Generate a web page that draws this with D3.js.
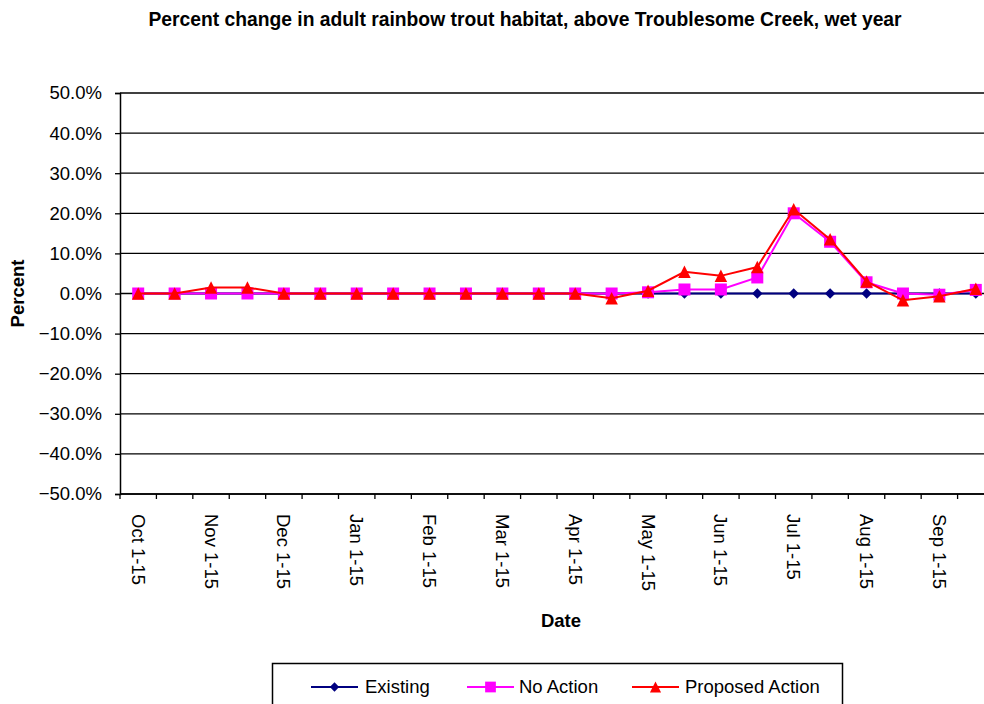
<!DOCTYPE html>
<html>
<head>
<meta charset="utf-8">
<script src="https://cdn.jsdelivr.net/npm/d3@7"></script>
<style>
  html, body { margin: 0; padding: 0; background: #fff; }
  svg { display: block; font-family: "Liberation Sans", Arial, sans-serif; }
</style>
</head>
<body>
<svg id="chart" width="984" height="704"></svg>
<script>
// Half-month periods of the water year
const periods = [
  "Oct 1-15", "Oct 16-31", "Nov 1-15", "Nov 16-30", "Dec 1-15", "Dec 16-31",
  "Jan 1-15", "Jan 16-31", "Feb 1-15", "Feb 16-28", "Mar 1-15", "Mar 16-31",
  "Apr 1-15", "Apr 16-30", "May 1-15", "May 16-31", "Jun 1-15", "Jun 16-30",
  "Jul 1-15", "Jul 16-31", "Aug 1-15", "Aug 16-31", "Sep 1-15", "Sep 16-30"
];

// Percent change in habitat, by scenario
const existing = [0, 0, 0, 0, 0, 0, 0, 0, 0, 0, 0, 0, 0, 0, 0, 0, 0, 0, 0, 0, 0, 0, 0, 0];
const noAction = [0, 0, 0, 0, 0, 0, 0, 0, 0, 0, 0, 0, 0, 0, 0.3, 1.0, 1.0, 4.0, 20.0, 12.9, 2.8, 0, -0.3, 0.9];
const proposedAction = [0, 0, 1.5, 1.5, 0, 0, 0, 0, 0, 0, 0, 0, 0, -1.2, 0.7, 5.4, 4.4, 6.6, 21.0, 13.5, 3.0, -1.7, -0.7, 1.2];

const yTicks = [-50, -40, -30, -20, -10, 0, 10, 20, 30, 40, 50];
const seriesNames = ["Existing", "No Action", "Proposed Action"];

const svg = d3.select("#chart");
const plotLeft = 120, plotRight = 994, plotTop = 93, plotBottom = 494;
const fontSize = 18.5;

const x = d3.scaleBand().domain(periods).range([plotLeft, plotRight]);
const y = d3.scaleLinear().domain([-50, 50]).range([plotBottom, plotTop]);

// Marker shapes: diamond as a rotated square, upright triangle in a square box
const diamond = {
  draw(ctx, size) {
    const r = Math.sqrt(size) / 2;
    ctx.moveTo(0, -r); ctx.lineTo(r, 0); ctx.lineTo(0, r); ctx.lineTo(-r, 0); ctx.closePath();
  }
};
const square = {
  draw(ctx, size) {
    const r = Math.sqrt(size) / 2;
    ctx.rect(-r, -r, 2 * r, 2 * r);
  }
};
const triangle = {
  draw(ctx, size) {
    const r = Math.sqrt(size) / 2;
    ctx.moveTo(0, -r); ctx.lineTo(r, r); ctx.lineTo(-r, r); ctx.closePath();
  }
};

// Title
svg.append("text")
  .attr("x", 525).attr("y", 26)
  .attr("text-anchor", "middle")
  .attr("font-size", 19.3).attr("font-weight", "bold")
  .text("Percent change in adult rainbow trout habitat, above Troublesome Creek, wet year");

// Horizontal gridlines
svg.append("g").selectAll("line")
  .data(yTicks)
  .join("line")
  .attr("x1", plotLeft).attr("x2", plotRight)
  .attr("y1", d => y(d)).attr("y2", d => y(d))
  .attr("stroke", "#000").attr("stroke-width", 1.3);

// Y axis
const yAxis = svg.append("g")
  .attr("transform", `translate(${plotLeft},0)`)
  .call(d3.axisLeft(y).tickValues(yTicks).tickSize(5).tickPadding(13)
    .tickFormat(d => d3.format(".1f")(d) + "%"));
yAxis.select(".domain").attr("stroke", "#000").attr("stroke-width", 1.5);
yAxis.selectAll(".tick line").attr("stroke", "#000").attr("stroke-width", 1.3);
yAxis.selectAll("text").attr("font-size", fontSize).attr("fill", "#000")
  .attr("font-family", "Liberation Sans, Arial, sans-serif");

// X axis: ticks on category boundaries, labels on every other period
const xAxisG = svg.append("g").attr("transform", `translate(0,${plotBottom})`);
xAxisG.append("line")
  .attr("x1", plotLeft).attr("x2", plotRight)
  .attr("stroke", "#000").attr("stroke-width", 1.5);
xAxisG.selectAll("line.tick")
  .data(periods)
  .join("line")
  .attr("class", "tick")
  .attr("x1", d => x(d)).attr("x2", d => x(d))
  .attr("y1", 0).attr("y2", 5)
  .attr("stroke", "#000").attr("stroke-width", 1.3);
xAxisG.selectAll("text")
  .data(periods.filter((d, i) => i % 2 === 0))
  .join("text")
  .attr("transform", d => `translate(${x(d) + x.bandwidth() / 2},${20}) rotate(90)`)
  .attr("dy", "0.35em")
  .attr("font-size", fontSize)
  .text(d => d);

// Axis titles
svg.append("text")
  .attr("transform", `translate(24,${(plotTop + plotBottom) / 2}) rotate(-90)`)
  .attr("text-anchor", "middle")
  .attr("font-size", fontSize).attr("font-weight", "bold")
  .text("Percent");
svg.append("text")
  .attr("x", 561).attr("y", 627)
  .attr("text-anchor", "middle")
  .attr("font-size", fontSize).attr("font-weight", "bold")
  .text("Date");

// Series
const cx = d => x(d) + x.bandwidth() / 2;
const series = [
  { name: seriesNames[0], values: existing, color: "#000080", symbol: diamond, size: 110 },
  { name: seriesNames[1], values: noAction, color: "#FF00FF", symbol: square, size: 144 },
  { name: seriesNames[2], values: proposedAction, color: "#FF0000", symbol: triangle, size: 156 }
];

const line = d3.line().x(d => cx(d.p)).y(d => y(d.v));

series.forEach(s => {
  const pts = periods.map((p, i) => ({ p, v: s.values[i] }));
  const g = svg.append("g");
  g.append("path")
    .datum(pts)
    .attr("d", line)
    .attr("fill", "none")
    .attr("stroke", s.color)
    .attr("stroke-width", 2);
  g.selectAll("path.marker")
    .data(pts)
    .join("path")
    .attr("class", "marker")
    .attr("transform", d => `translate(${cx(d.p)},${y(d.v)})`)
    .attr("d", d3.symbol().type(s.symbol).size(s.size))
    .attr("fill", s.color);
});

// Legend
const legend = svg.append("g");
legend.append("rect")
  .attr("x", 272.5).attr("y", 663.5)
  .attr("width", 570).attr("height", 50)
  .attr("fill", "#fff").attr("stroke", "#000").attr("stroke-width", 1.5);
const legendItems = [
  { s: series[0], lx: 311, tx: 365 },
  { s: series[1], lx: 467, tx: 519 },
  { s: series[2], lx: 632, tx: 685 }
];
legendItems.forEach(it => {
  const ly = 687;
  const len = 47;
  legend.append("line")
    .attr("x1", it.lx).attr("x2", it.lx + len)
    .attr("y1", ly).attr("y2", ly)
    .attr("stroke", it.s.color).attr("stroke-width", 2);
  legend.append("path")
    .attr("transform", `translate(${it.lx + len / 2},${ly})`)
    .attr("d", d3.symbol().type(it.s.symbol).size(it.s.size * 0.8))
    .attr("fill", it.s.color);
  legend.append("text")
    .attr("x", it.tx).attr("y", ly)
    .attr("dy", "0.35em")
    .attr("font-size", fontSize)
    .text(it.s.name);
});
</script>
</body>
</html>
